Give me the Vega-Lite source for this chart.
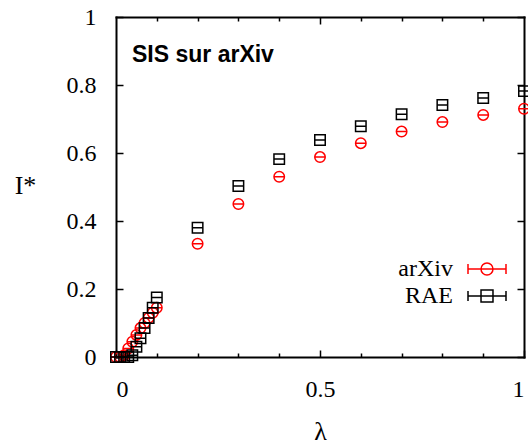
{
  "$schema": "https://vega.github.io/schema/vega-lite/v6.json",
  "width": 408,
  "height": 340,
  "autosize": "none",
  "padding": {"left": 116, "top": 17, "right": 4, "bottom": 87},
  "background": "white",
  "config": {
    "view": {"stroke": null},
    "axis": {
      "grid": false,
      "domain": true,
      "domainColor": "black",
      "domainWidth": 2,
      "domainCap": "square",
      "labelFont": "Liberation Serif",
      "labelFontSize": 24,
      "labelColor": "black",
      "tickColor": "black",
      "tickWidth": 1.5,
      "titleFont": "Liberation Serif",
      "titleFontSize": 26,
      "titleFontWeight": "normal",
      "titleColor": "black"
    },
    "legend": {
      "orient": "none",
      "title": null,
      "symbolSize": 361,
      "symbolStrokeWidth": 1.5,
      "symbolFillColor": "transparent",
      "labelFont": "Liberation Serif",
      "labelFontSize": 24,
      "labelColor": "black",
      "labelAlign": "right",
      "labelOffset": -46
    }
  },
  "title": {
    "text": "SIS sur arXiv",
    "font": "Liberation Sans",
    "fontWeight": "bold",
    "fontSize": 23,
    "color": "black",
    "anchor": "start",
    "frame": "group",
    "orient": "top",
    "baseline": "top",
    "offset": -62,
    "dx": 16
  },
  "data": {
    "values": [
      {"series": "arXiv", "lambda": 0.00, "I": 0.0},
      {"series": "arXiv", "lambda": 0.01, "I": 0.0},
      {"series": "arXiv", "lambda": 0.02, "I": 0.005},
      {"series": "arXiv", "lambda": 0.03, "I": 0.025},
      {"series": "arXiv", "lambda": 0.04, "I": 0.045},
      {"series": "arXiv", "lambda": 0.05, "I": 0.065},
      {"series": "arXiv", "lambda": 0.06, "I": 0.085},
      {"series": "arXiv", "lambda": 0.07, "I": 0.1},
      {"series": "arXiv", "lambda": 0.08, "I": 0.115},
      {"series": "arXiv", "lambda": 0.09, "I": 0.13},
      {"series": "arXiv", "lambda": 0.10, "I": 0.145},
      {"series": "arXiv", "lambda": 0.2, "I": 0.333},
      {"series": "arXiv", "lambda": 0.3, "I": 0.45},
      {"series": "arXiv", "lambda": 0.4, "I": 0.53},
      {"series": "arXiv", "lambda": 0.5, "I": 0.588},
      {"series": "arXiv", "lambda": 0.6, "I": 0.629},
      {"series": "arXiv", "lambda": 0.7, "I": 0.663},
      {"series": "arXiv", "lambda": 0.8, "I": 0.691},
      {"series": "arXiv", "lambda": 0.9, "I": 0.712},
      {"series": "arXiv", "lambda": 1.0, "I": 0.73},
      {"series": "RAE", "lambda": 0.00, "I": 0.0},
      {"series": "RAE", "lambda": 0.01, "I": 0.0},
      {"series": "RAE", "lambda": 0.02, "I": 0.0},
      {"series": "RAE", "lambda": 0.03, "I": 0.0},
      {"series": "RAE", "lambda": 0.04, "I": 0.005},
      {"series": "RAE", "lambda": 0.05, "I": 0.03},
      {"series": "RAE", "lambda": 0.06, "I": 0.055},
      {"series": "RAE", "lambda": 0.07, "I": 0.085},
      {"series": "RAE", "lambda": 0.08, "I": 0.115},
      {"series": "RAE", "lambda": 0.09, "I": 0.145},
      {"series": "RAE", "lambda": 0.10, "I": 0.175},
      {"series": "RAE", "lambda": 0.2, "I": 0.38},
      {"series": "RAE", "lambda": 0.3, "I": 0.503},
      {"series": "RAE", "lambda": 0.4, "I": 0.582},
      {"series": "RAE", "lambda": 0.5, "I": 0.638},
      {"series": "RAE", "lambda": 0.6, "I": 0.679},
      {"series": "RAE", "lambda": 0.7, "I": 0.714},
      {"series": "RAE", "lambda": 0.8, "I": 0.741},
      {"series": "RAE", "lambda": 0.9, "I": 0.762},
      {"series": "RAE", "lambda": 1.0, "I": 0.782}
    ]
  },
  "layer": [
    {
      "transform": [{"filter": "datum.series === 'arXiv'"}],
      "mark": {"type": "point", "filled": false, "strokeWidth": 1.5, "size": 110, "opacity": 1,
               "shape": "M-1,0A1,1 0 1,0 1,0A1,1 0 1,0 -1,0M-1,0H1"},
      "encoding": {
        "x": {
          "field": "lambda", "type": "quantitative",
          "scale": {"domain": [0, 1], "nice": false, "zero": false},
          "axis": {
            "orient": "bottom", "values": [0, 0.5, 1], "format": "~g",
            "tickSize": -7, "labelPadding": 27,
            "title": "λ", "titleAngle": 0, "titleAlign": "center", "titleBaseline": "middle",
            "titleX": 204, "titleY": 74
          }
        },
        "y": {
          "field": "I", "type": "quantitative",
          "scale": {"domain": [0, 1], "nice": false, "zero": false},
          "axis": {
            "orient": "left", "values": [0, 0.2, 0.4, 0.6, 0.8, 1], "format": "~g",
            "tickSize": -7, "labelPadding": 27, "labelBaseline": "middle",
            "title": "I*", "titleAngle": 0, "titleAlign": "center", "titleBaseline": "middle",
            "titleX": -91, "titleY": 168
          }
        },
        "stroke": {
          "field": "series", "type": "nominal",
          "scale": {"domain": ["arXiv"], "range": ["#ff0000"]},
          "legend": {
            "legendX": 359,
            "legendY": 240,
            "symbolType": "M-2,0H2M-2,-0.53V0.53M2,-0.53V0.53M-0.63,0A0.63,0.63 0 1,0 0.63,0A0.63,0.63 0 1,0 -0.63,0"
          }
        }
      }
    },
    {
      "transform": [{"filter": "datum.series === 'RAE'"}],
      "mark": {"type": "point", "filled": false, "strokeWidth": 1.5, "size": 110, "opacity": 1,
               "shape": "M-1,-1H1V1H-1ZM-1,0H1"},
      "encoding": {
        "x": {"field": "lambda", "type": "quantitative", "axis": null},
        "y": {"field": "I", "type": "quantitative", "axis": null},
        "color": {
          "field": "series", "type": "nominal",
          "scale": {"domain": ["RAE"], "range": ["#000000"]},
          "legend": {
            "legendX": 359,
            "legendY": 267,
            "symbolType": "M-2,0H2M-2,-0.53V0.53M2,-0.53V0.53M-0.63,-0.63H0.63V0.63H-0.63Z"
          }
        }
      }
    },
    {
      "mark": {"type": "point", "opacity": 0},
      "encoding": {
        "x": {"field": "lambda", "type": "quantitative",
          "axis": {"orient": "bottom", "values": [0.1, 0.2, 0.3, 0.4, 0.6, 0.7, 0.8, 0.9], "labels": false, "domain": false, "tickSize": -4, "title": null}},
        "y": {"field": "I", "type": "quantitative",
          "axis": {"orient": "right", "values": [0, 0.2, 0.4, 0.6, 0.8, 1], "labels": false, "tickSize": -7, "title": null}}
      }
    },
    {
      "mark": {"type": "point", "opacity": 0},
      "encoding": {
        "x": {"field": "lambda", "type": "quantitative",
          "axis": {"orient": "top", "values": [0.1, 0.2, 0.3, 0.4, 0.6, 0.7, 0.8, 0.9], "labels": false, "tickSize": -4, "title": null}},
        "y": {"field": "I", "type": "quantitative", "axis": null}
      }
    },
    {
      "mark": {"type": "point", "opacity": 0},
      "encoding": {
        "x": {"field": "lambda", "type": "quantitative",
          "axis": {"orient": "top", "values": [0.5], "labels": false, "domain": false, "tickSize": -7, "title": null}},
        "y": {"field": "I", "type": "quantitative", "axis": null}
      }
    }
  ],
  "resolve": {"axis": {"x": "independent", "y": "independent"}}
}
